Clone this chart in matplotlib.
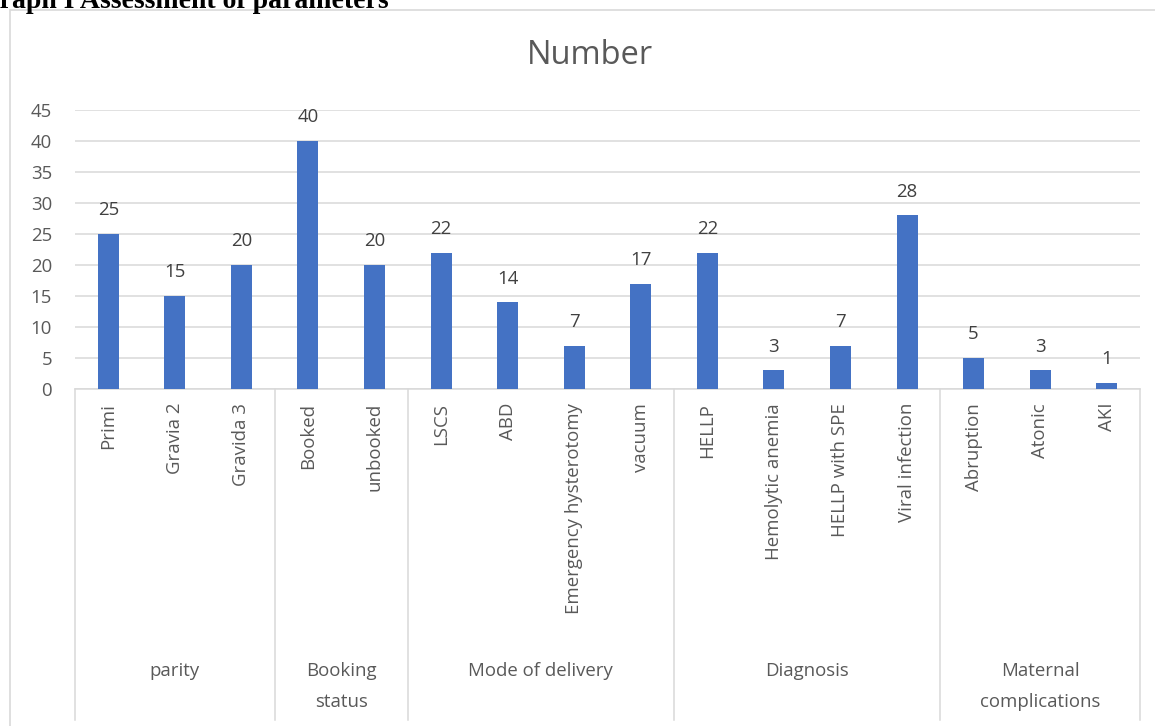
import numpy as np
import matplotlib.pyplot as plt
from matplotlib.patches import Rectangle
from matplotlib.transforms import blended_transform_factory

# data
categories = ["Primi", "Gravia 2", "Gravida 3",
              "Booked", "unbooked",
              "LSCS", "ABD", "Emergency hysterotomy", "vacuum",
              "HELLP", "Hemolytic anemia", "HELLP with SPE", "Viral infection",
              "Abruption", "Atonic", "AKI"]
values = [25, 15, 20, 40, 20, 22, 14, 7, 17, 22, 3, 7, 28, 5, 3, 1]
groups = ["parity", "Booking\nstatus", "Mode of delivery", "Diagnosis", "Maternal\ncomplications"]
group_sizes = [3, 2, 4, 4, 3]

W, H = 1155, 726
grey = "#595959"
fam = ["Open Sans", "DejaVu Sans"]
fs = 13.4

fig = plt.figure(figsize=(W / 100, H / 100), dpi=100)
ax = fig.add_axes([75 / W, 1 - 389 / H, (1140 - 75) / W, (389 - 110) / H])

# chart border
fig.patches.append(Rectangle((10 / W, -0.1), 1.2, 1 - 10 / H + 0.1, transform=fig.transFigure,
                             fill=False, edgecolor="#d9d9d9", linewidth=1.2))

x = np.arange(len(categories))
ax.bar(x, values, width=0.315, color="#4472C4", zorder=3)
for xi, v in zip(x, values):
    ax.annotate(str(v), (xi, v), xytext=(0, 10.5), textcoords="offset points",
                ha="center", va="bottom", fontsize=fs, color="#404040", family=fam)

ax.set_xlim(-0.5, len(categories) - 0.5)
ax.set_ylim(0, 45)
ax.set_yticks(range(0, 46, 5))
ax.grid(axis="y", color="#d9d9d9", linewidth=1.1, zorder=0)
for s in ["top", "right", "left"]:
    ax.spines[s].set_visible(False)
ax.spines["bottom"].set_color("#d9d9d9")
ax.spines["bottom"].set_linewidth(1.1)

ax.set_xticks(x)
ax.set_xticklabels(categories, rotation=90, va="top", ha="center", fontsize=fs, color=grey, family=fam)
ax.tick_params(axis="x", length=0, pad=10)
ax.tick_params(axis="y", length=0, pad=16.5, labelsize=fs, labelcolor=grey)
for t in ax.get_yticklabels():
    t.set_family(fam)

# group separators and group labels
tr = blended_transform_factory(ax.transData, ax.transAxes)
depth = -(720 - 389) / (389 - 110)
edges = np.concatenate([[0], np.cumsum(group_sizes)]) - 0.5
for e in edges:
    ax.plot([e, e], [0, depth], transform=tr, color="#d9d9d9", linewidth=1.1, clip_on=False)
for g, a, b in zip(groups, edges[:-1], edges[1:]):
    ax.text((a + b) / 2, -(662 - 389) / (389 - 110), g, transform=tr, ha="center", va="top",
            fontsize=fs, color=grey, family=fam, linespacing=1.95, multialignment="center")

fig.text(590 / W, 1 - 55 / H, "Number", ha="center", va="center", fontsize=23.5, color=grey, family=fam)
fig.text(-0.019, 1 - 8 / H, "Graph I Assessment of parameters", ha="left", va="baseline",
         fontsize=20, fontweight="bold", family="Liberation Serif", color="black")

fig.savefig("out.png", dpi=100)
